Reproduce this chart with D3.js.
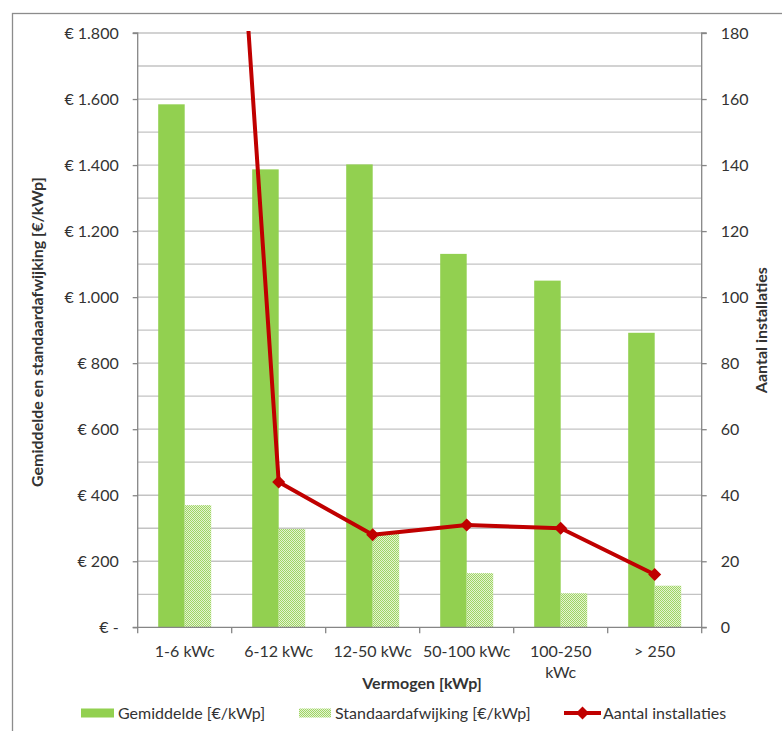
<!DOCTYPE html>
<html>
<head>
<meta charset="utf-8">
<script src="https://cdn.jsdelivr.net/npm/d3@7"></script>
<style>
  html, body { margin: 0; padding: 0; background: #fff; }
  svg { display: block; }
  text { font-family: Lato, "Open Sans", sans-serif; fill: #333; }
</style>
</head>
<body>
<svg id="chart" width="782" height="731"></svg>
<script>
const categories = ["1-6 kWc", "6-12 kWc", "12-50 kWc", "50-100 kWc", "100-250 kWc", "> 250"];
const gemiddelde = [1584, 1387, 1402, 1131, 1050, 892];
const standaardafwijking = [370, 298, 285, 164, 103, 126];
const aantal = [469, 44, 28, 31, 30, 16];
const leftTicks = [0, 200, 400, 600, 800, 1000, 1200, 1400, 1600, 1800];
const rightTicks = [0, 20, 40, 60, 80, 100, 120, 140, 160, 180];
const legendLabels = ["Gemiddelde [€/kWp]", "Standaardafwijking [€/kWp]", "Aantal installaties"];

const svg = d3.select("#chart");
const L = 137.7, R = 701.7, T = 33, B = 627.3;

// outer frame
svg.append("rect").attr("x", 12.5).attr("y", 13.5).attr("width", 900).attr("height", 900)
  .attr("fill", "none").attr("stroke", "#8c8c8c").attr("stroke-width", 1.3);

const defs = svg.append("defs");
const pat = defs.append("pattern").attr("id", "dots").attr("patternUnits", "userSpaceOnUse")
  .attr("width", 2).attr("height", 2);
pat.append("rect").attr("width", 2).attr("height", 2).attr("fill", "#e4f3d3");
pat.append("rect").attr("x", 0).attr("y", 0).attr("width", 1).attr("height", 1).attr("fill", "#9fd563");
pat.append("rect").attr("x", 1).attr("y", 1).attr("width", 1).attr("height", 1).attr("fill", "#9fd563");
defs.append("clipPath").attr("id", "plotclip").append("rect")
  .attr("x", L).attr("y", T - 2).attr("width", R - L).attr("height", B - T + 10);

const x = d3.scaleBand().domain(categories).range([L, R]).padding(0);
const yL = d3.scaleLinear().domain([0, 1800]).range([B, T]);
const yR = d3.scaleLinear().domain([0, 180]).range([B, T]);

// gridlines every 100
const grid = d3.range(100, 1801, 100);
svg.append("g").selectAll("line").data(grid).join("line")
  .attr("x1", L).attr("x2", R).attr("y1", d => yL(d)).attr("y2", d => yL(d))
  .attr("stroke", "#c3c3c3").attr("stroke-width", 1.3);

// bars
const bw = 26.5;
svg.append("g").selectAll("rect").data(categories).join("rect")
  .attr("x", (d) => x(d) + x.bandwidth() / 2 - bw)
  .attr("width", bw)
  .attr("y", (d, i) => yL(gemiddelde[i]))
  .attr("height", (d, i) => B - yL(gemiddelde[i]))
  .attr("fill", "#92d050");
svg.append("g").selectAll("rect").data(categories).join("rect")
  .attr("x", (d) => x(d) + x.bandwidth() / 2)
  .attr("width", bw)
  .attr("y", (d, i) => yL(standaardafwijking[i]))
  .attr("height", (d, i) => B - yL(standaardafwijking[i]))
  .attr("fill", "url(#dots)");

// axes
const axisColor = "#868686";
const gl = svg.append("g").attr("transform", `translate(${L},0)`)
  .call(d3.axisLeft(yL).tickValues(leftTicks).tickSize(5).tickPadding(14)
    .tickFormat(d => d === 0 ? "€ -" : "€ " + d3.format(",")(d).replace(/,/g, ".")));
const gr = svg.append("g").attr("transform", `translate(${R},0)`)
  .call(d3.axisRight(yR).tickValues(rightTicks).tickSize(5).tickPadding(14));
const gb = svg.append("g").attr("transform", `translate(0,${B})`)
  .call(d3.axisBottom(x).tickSize(0).tickFormat(""));
[gl, gr, gb].forEach(g => {
  g.select(".domain").attr("stroke", axisColor).attr("stroke-width", 1.3);
  g.selectAll(".tick line").attr("stroke", axisColor).attr("stroke-width", 1.3);
  g.selectAll(".tick text").attr("font-family", "Lato, sans-serif").attr("font-size", 16).attr("fill", "#333");
});
gl.select(".domain").attr("d", `M-5,${T}H0V${B}H-5`);
gr.select(".domain").attr("d", `M5,${T}H0V${B}H5`);
gb.select(".domain").attr("d", `M${L},0H${R}`);
// category boundary ticks
const bounds = d3.range(0, categories.length + 1).map(i => L + i * x.step());
gb.selectAll(".bt").data(bounds).join("line").attr("class", "bt")
  .attr("x1", d => d).attr("x2", d => d).attr("y1", 0).attr("y2", 6)
  .attr("stroke", axisColor).attr("stroke-width", 1.3);

// category labels (wrapping)
const catLines = { "100-250 kWc": ["100-250", "kWc"] };
const cl = svg.append("g");
categories.forEach(c => {
  const lines = catLines[c] || [c];
  const t = cl.append("text").attr("x", x(c) + x.bandwidth() / 2).attr("y", B + 30)
    .attr("text-anchor", "middle").attr("font-size", 16);
  lines.forEach((ln, j) => t.append("tspan").attr("x", x(c) + x.bandwidth() / 2).attr("dy", j === 0 ? 0 : 21).text(ln));
});

// line
const line = d3.line().x((d, i) => x(categories[i]) + x.bandwidth() / 2).y(d => yR(d));
const lg = svg.append("g").attr("clip-path", "url(#plotclip)");
lg.append("path").datum(aantal).attr("d", line).attr("fill", "none")
  .attr("stroke", "#c00000").attr("stroke-width", 4).attr("stroke-linejoin", "round");
lg.selectAll("path.m").data(aantal).join("path").attr("class", "m")
  .attr("transform", (d, i) => `translate(${x(categories[i]) + x.bandwidth() / 2},${yR(d)})`)
  .attr("d", "M0,-6.5L6.5,0L0,6.5L-6.5,0Z").attr("fill", "#c00000");

// axis titles
svg.append("text").attr("transform", `translate(43,${(T + B) / 2 + 2}) rotate(-90)`)
  .attr("text-anchor", "middle").attr("font-size", 16).attr("font-weight", "bold").attr("fill", "#111")
  .text("Gemiddelde en standaardafwijking [€/kWp]");
svg.append("text").attr("transform", `translate(767,${(T + B) / 2}) rotate(-90)`)
  .attr("text-anchor", "middle").attr("font-size", 16).attr("font-weight", "bold").attr("fill", "#111")
  .text("Aantal installaties");
svg.append("text").attr("x", 422).attr("y", 689).attr("text-anchor", "middle")
  .attr("font-size", 16).attr("font-weight", "bold").attr("fill", "#111").text("Vermogen [kWp]");

// legend
const leg = svg.append("g");
const ly = 713;
leg.append("rect").attr("x", 81).attr("y", ly - 4.5).attr("width", 33).attr("height", 9).attr("fill", "#92d050");
leg.append("text").attr("x", 118).attr("y", ly + 5.5).attr("font-size", 16).text(legendLabels[0]);
leg.append("rect").attr("x", 299).attr("y", ly - 4.5).attr("width", 32).attr("height", 9).attr("fill", "url(#dots)");
leg.append("text").attr("x", 335).attr("y", ly + 5.5).attr("font-size", 16).text(legendLabels[1]);
leg.append("line").attr("x1", 564).attr("x2", 601).attr("y1", ly).attr("y2", ly)
  .attr("stroke", "#c00000").attr("stroke-width", 4);
leg.append("path").attr("transform", `translate(582.5,${ly})`).attr("d", "M0,-6.5L6.5,0L0,6.5L-6.5,0Z").attr("fill", "#c00000");
leg.append("text").attr("x", 603).attr("y", ly + 5.5).attr("font-size", 16).text(legendLabels[2]);
</script>
</body>
</html>
